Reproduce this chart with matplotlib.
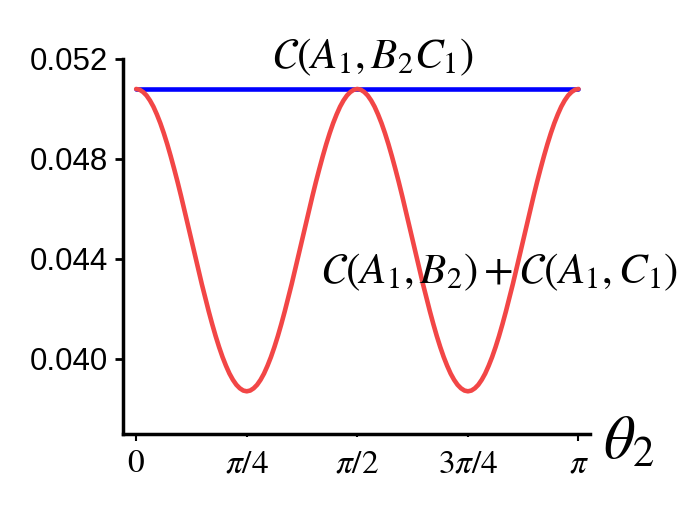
import numpy as np
import matplotlib.pyplot as plt

plt.rcParams['mathtext.fontset'] = 'stix'

# --- datos ---
# theta_2 de 0 a pi en pasos de pi/128
theta = np.linspace(0, np.pi, 129)

# C(A1,B2) + C(A1,C1)
suma = [
    0.05080, 0.05077, 0.05068, 0.05054, 0.05034, 0.05009, 0.04978, 0.04943,
    0.04903, 0.04859, 0.04811, 0.04760, 0.04707, 0.04651, 0.04593, 0.04534,
    0.04475, 0.04416, 0.04357, 0.04299, 0.04244, 0.04190, 0.04139, 0.04091,
    0.04047, 0.04007, 0.03972, 0.03941, 0.03916, 0.03896, 0.03882, 0.03873,
    0.03870, 0.03873, 0.03882, 0.03896, 0.03916, 0.03941, 0.03972, 0.04007,
    0.04047, 0.04091, 0.04139, 0.04190, 0.04244, 0.04299, 0.04357, 0.04416,
    0.04475, 0.04534, 0.04593, 0.04651, 0.04707, 0.04760, 0.04811, 0.04859,
    0.04903, 0.04943, 0.04978, 0.05009, 0.05034, 0.05054, 0.05068, 0.05077,
    0.05080, 0.05077, 0.05068, 0.05054, 0.05034, 0.05009, 0.04978, 0.04943,
    0.04903, 0.04859, 0.04811, 0.04760, 0.04707, 0.04651, 0.04593, 0.04534,
    0.04475, 0.04416, 0.04357, 0.04299, 0.04244, 0.04190, 0.04139, 0.04091,
    0.04047, 0.04007, 0.03972, 0.03941, 0.03916, 0.03896, 0.03882, 0.03873,
    0.03870, 0.03873, 0.03882, 0.03896, 0.03916, 0.03941, 0.03972, 0.04007,
    0.04047, 0.04091, 0.04139, 0.04190, 0.04244, 0.04299, 0.04357, 0.04416,
    0.04475, 0.04534, 0.04593, 0.04651, 0.04707, 0.04760, 0.04811, 0.04859,
    0.04903, 0.04943, 0.04978, 0.05009, 0.05034, 0.05054, 0.05068, 0.05077,
    0.05080]

# C(A1, B2C1): constante
theta_bloque = [0, np.pi]
bloque = [0.0508, 0.0508]

xticks = [0, np.pi / 4, np.pi / 2, 3 * np.pi / 4, np.pi]
xtick_labels = [r'$0$', r'$\pi/4$', r'$\pi/2$', r'$3\pi/4$', r'$\pi$']
yticks = [0.040, 0.044, 0.048, 0.052]

# --- figura ---
fig = plt.figure(figsize=(7, 5.22), dpi=100)
ax = fig.add_axes([0.176, 0.169, 0.667, 0.718])

ax.plot(theta_bloque, bloque, color='#0000ff', lw=3.3, zorder=2,
        solid_capstyle='round')
ax.plot(theta, suma, color='#f24646', lw=3.3, zorder=3,
        solid_capstyle='round')

ax.set_xlim(-0.092, 3.224)
ax.set_ylim(0.037, 0.052)

ax.spines['top'].set_visible(False)
ax.spines['right'].set_visible(False)
ax.spines['left'].set_linewidth(2.5)
ax.spines['bottom'].set_linewidth(2.5)

ax.set_yticks(yticks)
ax.set_yticklabels(['%.3f' % v for v in yticks], fontsize=22.5,
                   family='Liberation Sans')
ax.tick_params(axis='y', direction='out', length=6, width=2, pad=5)

ax.set_xticks(xticks)
ax.set_xticklabels(xtick_labels, fontsize=24)
ax.tick_params(axis='x', direction='out', length=5, width=1.5, pad=4)
for t in ax.xaxis.get_major_ticks()[1:4]:
    t.tick1line.set_markersize(2)

fig.text(0.533, 0.891, r'$\mathcal{C}(A_1,B_2C_1)$', fontsize=31,
         ha='center', va='center')
fig.text(0.714, 0.479, r'$\mathcal{C}(A_1,B_2)+\mathcal{C}(A_1,C_1)$',
         fontsize=31, ha='center', va='center')
fig.text(0.862, 0.153, r'$\theta_2$', fontsize=44, ha='left', va='center')

fig.savefig('out.png', dpi=100)
